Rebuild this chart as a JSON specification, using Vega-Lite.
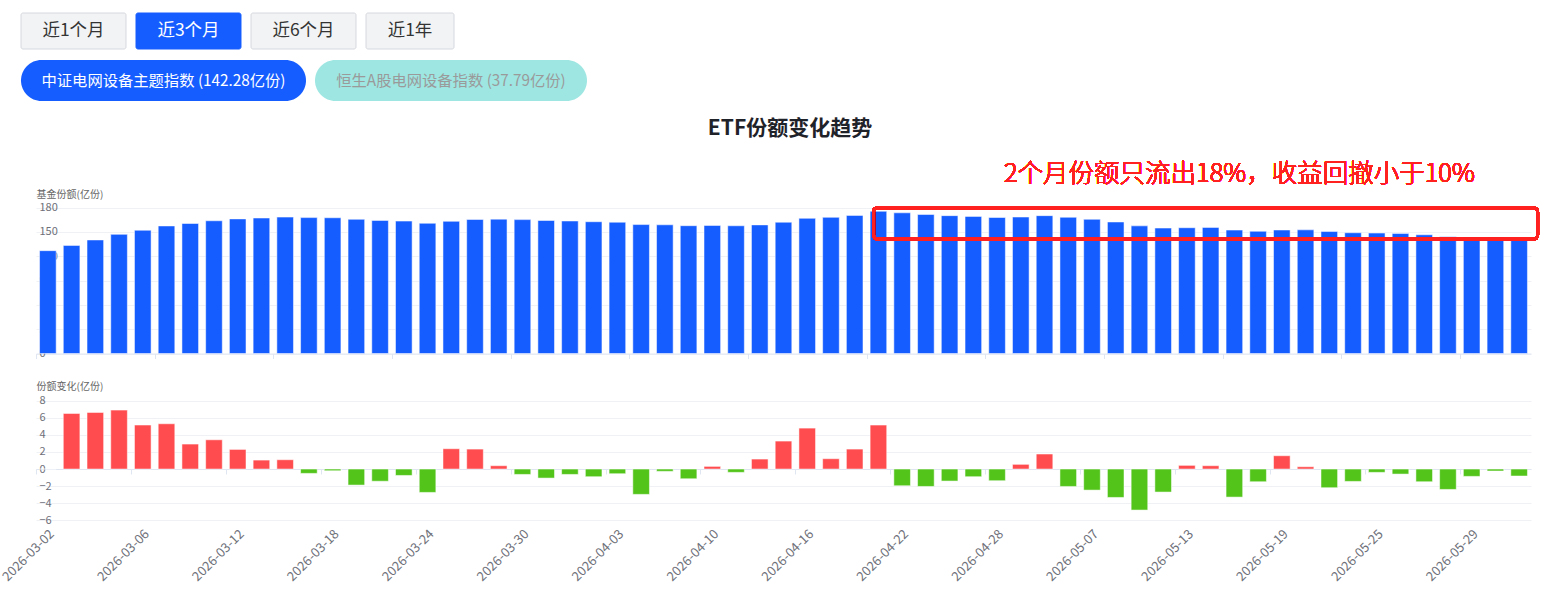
{
  "$schema": "https://vega.github.io/schema/vega-lite/v6.json",
  "description": "ETF份额变化趋势: fund shares (top) and daily share change (bottom), with range buttons and index pills above.",
  "background": "white",
  "padding": {"left": 0, "top": 12, "right": 10, "bottom": 5},
  "config": {
    "font": "Noto Sans CJK SC",
    "view": {"stroke": null}
  },
  "datasets": {
    "ranges": [
      {"label": "近1个月", "active": false},
      {"label": "近3个月", "active": true},
      {"label": "近6个月", "active": false},
      {"label": "近1年", "active": false}
    ],
    "indexes": [
      {"label": "中证电网设备主题指数 (142.28亿份)", "active": true},
      {"label": "恒生A股电网设备指数 (37.79亿份)", "active": false}
    ],
    "etf": [
      {"date": "2026-03-02", "share": 126.9, "chg": 0},
      {"date": "2026-03-03", "share": 133.4, "chg": 6.52},
      {"date": "2026-03-04", "share": 140.1, "chg": 6.64},
      {"date": "2026-03-05", "share": 147.0, "chg": 6.91},
      {"date": "2026-03-06", "share": 152.1, "chg": 5.16},
      {"date": "2026-03-09", "share": 157.4, "chg": 5.31},
      {"date": "2026-03-10", "share": 160.4, "chg": 2.93},
      {"date": "2026-03-11", "share": 163.8, "chg": 3.43},
      {"date": "2026-03-12", "share": 166.1, "chg": 2.30},
      {"date": "2026-03-13", "share": 167.2, "chg": 1.05},
      {"date": "2026-03-16", "share": 168.3, "chg": 1.09},
      {"date": "2026-03-17", "share": 167.7, "chg": -0.51},
      {"date": "2026-03-18", "share": 167.5, "chg": -0.20},
      {"date": "2026-03-19", "share": 165.6, "chg": -1.88},
      {"date": "2026-03-20", "share": 164.2, "chg": -1.43},
      {"date": "2026-03-23", "share": 163.4, "chg": -0.75},
      {"date": "2026-03-24", "share": 160.7, "chg": -2.74},
      {"date": "2026-03-25", "share": 163.1, "chg": 2.38},
      {"date": "2026-03-26", "share": 165.4, "chg": 2.34},
      {"date": "2026-03-27", "share": 165.8, "chg": 0.39},
      {"date": "2026-03-30", "share": 165.2, "chg": -0.63},
      {"date": "2026-03-31", "share": 164.1, "chg": -1.06},
      {"date": "2026-04-01", "share": 163.5, "chg": -0.63},
      {"date": "2026-04-02", "share": 162.6, "chg": -0.90},
      {"date": "2026-04-03", "share": 162.0, "chg": -0.55},
      {"date": "2026-04-07", "share": 159.1, "chg": -2.97},
      {"date": "2026-04-08", "share": 158.8, "chg": -0.27},
      {"date": "2026-04-09", "share": 157.7, "chg": -1.14},
      {"date": "2026-04-10", "share": 158.0, "chg": 0.31},
      {"date": "2026-04-13", "share": 157.6, "chg": -0.39},
      {"date": "2026-04-14", "share": 158.7, "chg": 1.17},
      {"date": "2026-04-15", "share": 162.0, "chg": 3.28},
      {"date": "2026-04-16", "share": 166.8, "chg": 4.80},
      {"date": "2026-04-17", "share": 168.0, "chg": 1.21},
      {"date": "2026-04-20", "share": 170.4, "chg": 2.34},
      {"date": "2026-04-21", "share": 175.5, "chg": 5.16},
      {"date": "2026-04-22", "share": 173.6, "chg": -1.96},
      {"date": "2026-04-23", "share": 171.5, "chg": -2.04},
      {"date": "2026-04-24", "share": 170.1, "chg": -1.41},
      {"date": "2026-04-27", "share": 169.2, "chg": -0.90},
      {"date": "2026-04-28", "share": 167.8, "chg": -1.37},
      {"date": "2026-04-29", "share": 168.4, "chg": 0.55},
      {"date": "2026-04-30", "share": 170.1, "chg": 1.76},
      {"date": "2026-05-06", "share": 168.1, "chg": -2.04},
      {"date": "2026-05-07", "share": 165.6, "chg": -2.47},
      {"date": "2026-05-08", "share": 162.3, "chg": -3.33},
      {"date": "2026-05-11", "share": 157.5, "chg": -4.81},
      {"date": "2026-05-12", "share": 154.8, "chg": -2.70},
      {"date": "2026-05-13", "share": 155.2, "chg": 0.43},
      {"date": "2026-05-14", "share": 155.6, "chg": 0.39},
      {"date": "2026-05-15", "share": 152.3, "chg": -3.29},
      {"date": "2026-05-18", "share": 150.8, "chg": -1.49},
      {"date": "2026-05-19", "share": 152.4, "chg": 1.56},
      {"date": "2026-05-20", "share": 152.6, "chg": 0.27},
      {"date": "2026-05-21", "share": 150.5, "chg": -2.19},
      {"date": "2026-05-22", "share": 149.0, "chg": -1.45},
      {"date": "2026-05-25", "share": 148.6, "chg": -0.39},
      {"date": "2026-05-26", "share": 148.0, "chg": -0.59},
      {"date": "2026-05-27", "share": 146.5, "chg": -1.49},
      {"date": "2026-05-28", "share": 144.1, "chg": -2.39},
      {"date": "2026-05-29", "share": 143.3, "chg": -0.86},
      {"date": "2026-06-01", "share": 143.0, "chg": -0.23},
      {"date": "2026-06-02", "share": 142.28, "chg": -0.82}
    ]
  },
  "bounds": "flush",
  "spacing": 11,
  "vconcat": [
    {
      "width": 450,
      "height": 36,
      "data": {"name": "ranges"},
      "encoding": {
        "x": {"field": "label", "type": "nominal", "sort": null, "axis": null,
              "scale": {"paddingInner": 0.087, "paddingOuter": 0}}
      },
      "layer": [
        {
          "transform": [{"filter": "datum.label !== '近1年'"}],
          "mark": {"type": "bar", "cornerRadius": 2, "strokeWidth": 1, "xOffset": -15},
          "encoding": {
            "y": {"datum": 0, "type": "quantitative", "scale": {"domain": [0, 1], "nice": false}, "axis": null},
            "y2": {"datum": 1},
            "fill": {"condition": {"test": "datum.active", "value": "#165DFF"}, "value": "#F2F3F5"},
            "stroke": {"condition": {"test": "datum.active", "value": "#165DFF"}, "value": "#D5D8DE"}
          }
        },
        {
          "transform": [{"filter": "datum.label === '近1年'"}],
          "mark": {"type": "bar", "cornerRadius": 2, "strokeWidth": 1, "width": 88, "xOffset": -23.5},
          "encoding": {
            "y": {"datum": 0, "type": "quantitative", "scale": {"domain": [0, 1], "nice": false}, "axis": null},
            "y2": {"datum": 1},
            "fill": {"condition": {"test": "datum.active", "value": "#165DFF"}, "value": "#F2F3F5"},
            "stroke": {"condition": {"test": "datum.active", "value": "#165DFF"}, "value": "#D5D8DE"}
          }
        },
        {
          "transform": [{"filter": "datum.label !== '近1年'"}],
          "mark": {"type": "text", "fontSize": 17.5, "baseline": "middle", "xOffset": -15},
          "encoding": {
            "text": {"field": "label"},
            "color": {"condition": {"test": "datum.active", "value": "#FFFFFF"}, "value": "#333333"}
          }
        },
        {
          "transform": [{"filter": "datum.label === '近1年'"}],
          "mark": {"type": "text", "fontSize": 17.5, "baseline": "middle", "xOffset": -23.5},
          "encoding": {
            "text": {"field": "label"},
            "color": {"condition": {"test": "datum.active", "value": "#FFFFFF"}, "value": "#333333"}
          }
        }
      ]
    },
    {
      "width": 580,
      "height": 41,
      "data": {"name": "indexes"},
      "encoding": {
        "x": {"field": "label", "type": "nominal", "sort": null, "axis": null,
              "scale": {"paddingInner": 0.0339, "paddingOuter": 0}}
      },
      "layer": [
        {
          "transform": [{"filter": "datum.active"}],
          "mark": {"type": "bar", "cornerRadius": 20.5, "fill": "#165DFF", "xOffset": -15},
          "encoding": {
            "y": {"datum": 0, "type": "quantitative", "scale": {"domain": [0, 1], "nice": false}, "axis": null},
            "y2": {"datum": 1}
          }
        },
        {
          "transform": [{"filter": "!datum.active"}],
          "mark": {"type": "bar", "cornerRadius": 20.5, "fill": "#9EE6E2", "width": 272, "xOffset": -22.5},
          "encoding": {
            "y": {"datum": 0, "type": "quantitative", "scale": {"domain": [0, 1], "nice": false}, "axis": null},
            "y2": {"datum": 1}
          }
        },
        {
          "transform": [{"filter": "datum.active"}],
          "mark": {"type": "text", "fontSize": 15.3, "baseline": "middle", "color": "#FFFFFF", "xOffset": -15},
          "encoding": {"text": {"field": "label"}}
        },
        {
          "transform": [{"filter": "!datum.active"}],
          "mark": {"type": "text", "fontSize": 15.3, "baseline": "middle", "color": "#9A9A9A", "xOffset": -22.5},
          "encoding": {"text": {"field": "label"}}
        }
      ]
    },
    {
      "width": 1495,
      "height": 241.5,
      "data": {"name": "etf"},
      "title": {
        "text": "ETF份额变化趋势",
        "fontSize": 21,
        "fontWeight": "bold",
        "color": "#1F2329",
        "anchor": "middle",
        "baseline": "middle",
        "offset": -16,
        "dx": 6.5,
        "dy": 22
      },
      "layer": [
        {
          "mark": {"type": "bar", "fill": "#165DFF", "stroke": "#FFFFFF", "strokeOpacity": 0.5, "strokeWidth": 1},
          "encoding": {
            "x": {
              "field": "date", "type": "ordinal", "sort": null,
              "scale": {"paddingInner": 0.3, "paddingOuter": 0.15},
              "axis": {
                "orient": "bottom", "title": null, "labels": false, "grid": false,
                "values": ["2026-03-02", "2026-03-09", "2026-03-16", "2026-03-23", "2026-03-30", "2026-04-07", "2026-04-14", "2026-04-21", "2026-04-28", "2026-05-08", "2026-05-15", "2026-05-22", "2026-05-29"],
                "bandPosition": 0, "tickOffset": -3.56,
                "domainColor": "#E0E6F1", "tickColor": "#E0E6F1", "tickSize": 5
              }
            },
            "y": {
              "field": "share", "type": "quantitative",
              "scale": {"domain": [0, 298], "nice": false},
              "axis": {
                "values": [0, 30, 60, 90, 120, 150, 180],
                "title": "基金份额(亿份)", "titleAngle": 0, "titleAlign": "left", "titleBaseline": "middle",
                "titleX": 0, "titleY": 82, "titleFontSize": 10, "titleFontWeight": "normal", "titleColor": "#666666",
                "labelAlign": "left", "labelBaseline": "middle", "labelPadding": -3, "labelFontSize": 11, "labelColor": "#6E7079",
                "ticks": false, "tickSize": 0, "domain": false, "gridColor": "#EFF1F4"
              }
            }
          }
        },
        {
          "mark": {"type": "rect", "fillOpacity": 0, "stroke": "#FF2020", "strokeWidth": 3, "cornerRadius": 4},
          "encoding": {
            "x": {"datum": "2026-04-21", "bandPosition": 0.205},
            "x2": {"datum": "2026-06-02", "bandPosition": 1.607},
            "y": {"datum": 180},
            "y2": {"datum": 141}
          }
        },
        {
          "mark": {"type": "text", "text": "2个月份额只流出18%，收益回撤小于10%", "fontSize": 25.5, "fontWeight": 300, "color": "#FF2020", "baseline": "middle", "align": "center", "dx": 5},
          "encoding": {
            "x": {"datum": "2026-05-15"},
            "y": {"datum": 221}
          }
        }
      ]
    },
    {
      "width": 1495,
      "height": 155.2,
      "data": {"name": "etf"},
      "resolve": {"axis": {"x": "independent"}},
      "layer": [
        {
          "mark": {"type": "bar", "stroke": "#FFFFFF", "strokeOpacity": 0.5, "strokeWidth": 1},
          "encoding": {
            "x": {
              "field": "date", "type": "ordinal", "sort": null,
              "scale": {"paddingInner": 0.3, "paddingOuter": 0.15},
              "axis": {
                "orient": "bottom", "title": null, "grid": false, "domain": false, "ticks": false, "tickSize": 0,
                "values": ["2026-03-02", "2026-03-06", "2026-03-12", "2026-03-18", "2026-03-24", "2026-03-30", "2026-04-03", "2026-04-10", "2026-04-16", "2026-04-22", "2026-04-28", "2026-05-07", "2026-05-13", "2026-05-19", "2026-05-25", "2026-05-29"],
                "labelAngle": -45, "labelAlign": "right", "labelBaseline": "top", "labelPadding": 7,
                "labelFontSize": 13, "labelColor": "#6E7079"
              }
            },
            "y": {
              "field": "chg", "type": "quantitative",
              "scale": {"domain": [-6, 12.2], "nice": false, "zero": false},
              "axis": {
                "values": [-6, -4, -2, 0, 2, 4, 6, 8],
                "title": "份额变化(亿份)", "titleAngle": 0, "titleAlign": "left", "titleBaseline": "middle",
                "titleX": 0, "titleY": 21.5, "titleFontSize": 10, "titleFontWeight": "normal", "titleColor": "#666666",
                "labelAlign": "left", "labelBaseline": "middle", "labelPadding": -3, "labelFontSize": 11, "labelColor": "#6E7079",
                "ticks": false, "tickSize": 0, "domain": false, "gridColor": "#EFF1F4"
              }
            },
            "color": {"condition": {"test": "datum.chg > 0", "value": "#FF4D4F"}, "value": "#52C41A"}
          }
        },
        {
          "mark": {"type": "point", "opacity": 0},
          "encoding": {
            "x": {
              "field": "date", "type": "ordinal", "sort": null,
              "axis": {
                "orient": "bottom", "offset": -51.2, "title": null, "labels": false, "grid": false,
                "values": ["2026-03-02", "2026-03-06", "2026-03-12", "2026-03-18", "2026-03-24", "2026-03-30", "2026-04-03", "2026-04-10", "2026-04-16", "2026-04-22", "2026-04-28", "2026-05-07", "2026-05-13", "2026-05-19", "2026-05-25", "2026-05-29"],
                "bandPosition": 0, "tickOffset": -3.56,
                "domainColor": "#E0E6F1", "tickColor": "#E0E6F1", "tickSize": 5
              }
            }
          }
        }
      ]
    }
  ]
}
